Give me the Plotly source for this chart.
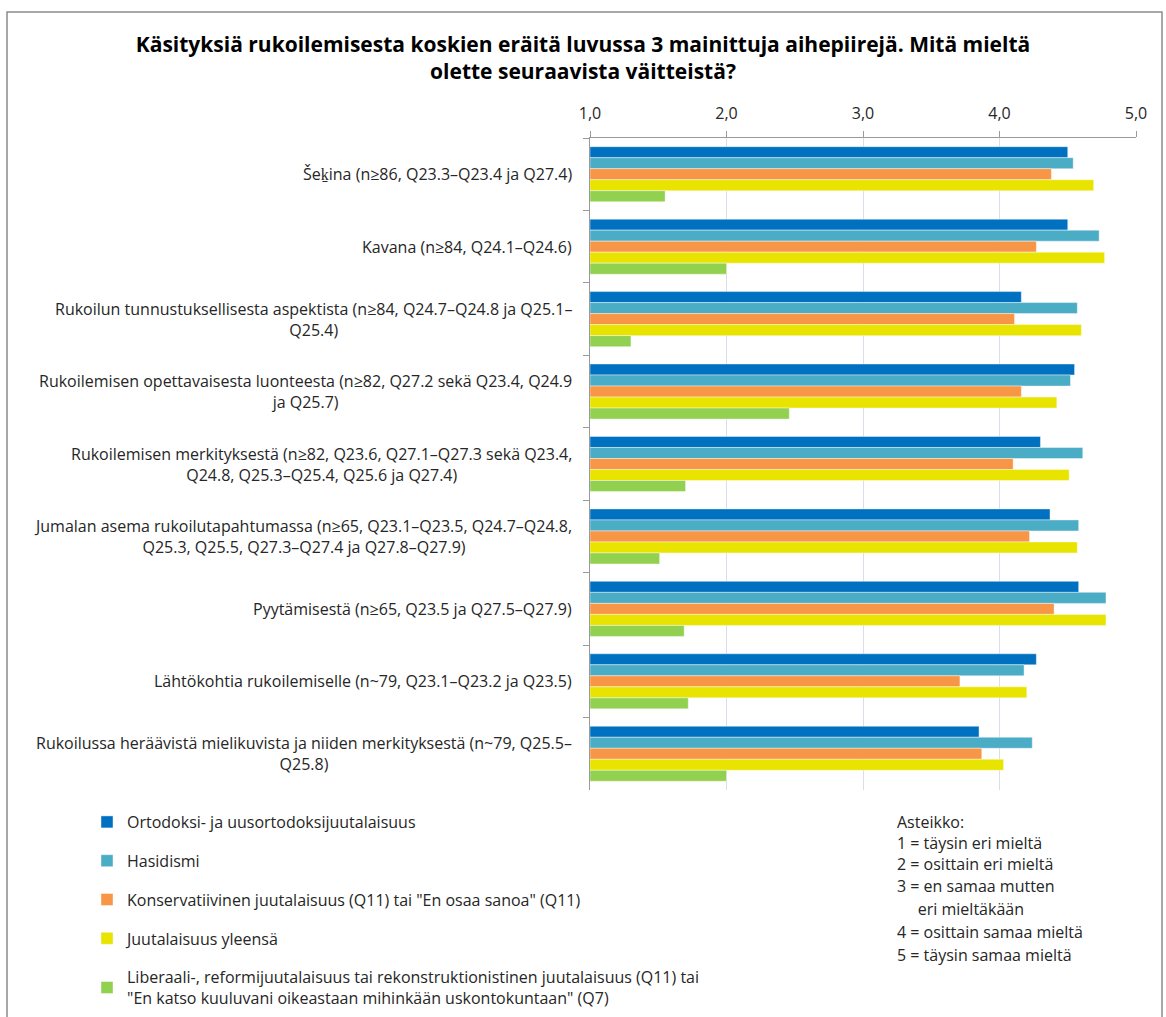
import plotly.graph_objects as go

categories = [
    "Šeḵina (n≥86, Q23.3–Q23.4 ja Q27.4)",
    "Kavana (n≥84, Q24.1–Q24.6)",
    "Rukoilun tunnustuksellisesta aspektista (n≥84, Q24.7–Q24.8 ja Q25.1–<br>Q25.4)",
    "Rukoilemisen opettavaisesta luonteesta (n≥82, Q27.2 sekä Q23.4, Q24.9<br>ja Q25.7)",
    "Rukoilemisen merkityksestä (n≥82, Q23.6, Q27.1–Q27.3 sekä Q23.4,<br>Q24.8, Q25.3–Q25.4, Q25.6 ja Q27.4)",
    "Jumalan asema rukoilutapahtumassa (n≥65, Q23.1–Q23.5, Q24.7–Q24.8,<br>Q25.3, Q25.5, Q27.3–Q27.4 ja Q27.8–Q27.9)",
    "Pyytämisestä (n≥65, Q23.5 ja Q27.5–Q27.9)",
    "Lähtökohtia rukoilemiselle (n~79, Q23.1–Q23.2 ja Q23.5)",
    "Rukoilussa heräävistä mielikuvista ja niiden merkityksestä (n~79, Q25.5–<br>Q25.8)",
]

series_names = [
    "Ortodoksi- ja uusortodoksijuutalaisuus",
    "Hasidismi",
    "Konservatiivinen juutalaisuus (Q11) tai \"En osaa sanoa\" (Q11)",
    "Juutalaisuus yleensä",
    "Liberaali-, reformijuutalaisuus tai rekonstruktionistinen juutalaisuus (Q11) tai<br>\"En katso kuuluvani oikeastaan mihinkään uskontokuntaan\" (Q7)",
]

ortodoksi = [4.50, 4.50, 4.16, 4.55, 4.30, 4.37, 4.58, 4.27, 3.85]
hasidismi = [4.54, 4.73, 4.57, 4.52, 4.61, 4.58, 4.78, 4.18, 4.24]
konservatiivinen = [4.38, 4.27, 4.11, 4.16, 4.10, 4.22, 4.40, 3.71, 3.87]
yleensa = [4.69, 4.77, 4.60, 4.42, 4.51, 4.57, 4.78, 4.20, 4.03]
liberaali = [1.55, 2.00, 1.30, 2.46, 1.70, 1.51, 1.69, 1.72, 2.00]

series_values = [ortodoksi, hasidismi, konservatiivinen, yleensa, liberaali]
colors = ["#0070C0", "#4BACC6", "#F79646", "#E8E400", "#92D050"]

x_ticks = [1, 2, 3, 4, 5]

scale_lines = [
    "Asteikko:",
    "1 = täysin eri mieltä",
    "2 = osittain eri mieltä",
    "3 = en samaa mutten",
    "\u00a0\u00a0\u00a0\u00a0\u00a0eri mieltäkään",
    "4 = osittain samaa mieltä",
    "5 = täysin samaa mieltä",
]

title_text = ("Käsityksiä rukoilemisesta koskien eräitä luvussa 3 mainittuja aihepiirejä. Mitä mieltä"
              "<br>olette seuraavista väitteistä?")

FONT = "Open Sans"
W, H = 1166, 1017
L, R, T, B = 590, 30, 138, 227
PW = W - L - R
PH = H - T - B


def px_x(px):
    return (px - L) / PW


def px_y(py):
    return (H - B - py) / PH


fig = go.Figure()
for i, (name, vals, col) in enumerate(zip(series_names, series_values, colors)):
    fig.add_trace(go.Bar(
        y=categories, x=[v - 1 for v in vals], base=1, orientation="h",
        name=name, marker=dict(color=col, line=dict(color="rgba(255,255,255,0.7)", width=0.6)),
        legendgroup=f"g{i}",
    ))

annotations = []
for c in categories:
    annotations.append(dict(
        x=0, xref="paper", y=c, yref="y", text=c, showarrow=False,
        xanchor="right", yanchor="middle", align="center", xshift=-16,
        font=dict(family=FONT, size=16, color="#262626"),
    ))

scale_y = [822, 843, 864, 886, 909, 932, 955]
for line, py in zip(scale_lines, scale_y):
    annotations.append(dict(
        x=px_x(895), xref="paper", y=px_y(py), yref="paper", text=line, showarrow=False,
        xanchor="left", yanchor="middle", align="left",
        font=dict(family=FONT, size=16, color="#262626"),
    ))

fig.update_layout(
    width=W, height=H,
    margin=dict(l=L, r=R, t=T, b=B, pad=0, autoexpand=False),
    paper_bgcolor="white", plot_bgcolor="white",
    separators=", ",
    barmode="group", bargap=0.24, bargroupgap=0,
    title=dict(text=title_text, x=0.5, xref="container", xanchor="center",
               y=1 - 52 / H, yref="container", yanchor="top",
               font=dict(family=FONT, size=21, color="black", weight="bold")),
    xaxis=dict(side="top", range=[1, 5], tickvals=x_ticks, tickformat=".1f",
               showgrid=True, gridcolor="#D9DFEA", gridwidth=1,
               showline=True, linecolor="#9A9A9A", linewidth=1,
               ticks="outside", ticklen=6, tickcolor="#9A9A9A",
               ticklabelstandoff=6, zeroline=False, fixedrange=True,
               tickfont=dict(family=FONT, size=16, color="#262626")),
    yaxis=dict(autorange="reversed", showticklabels=False,
               showline=True, linecolor="#9A9A9A", linewidth=1,
               ticks="outside", ticklen=6, tickcolor="#9A9A9A", tickson="boundaries",
               showgrid=False, fixedrange=True),
    legend=dict(x=px_x(87), y=px_y(805), xanchor="left", yanchor="top",
                orientation="v", tracegroupgap=15, itemwidth=30,
                font=dict(family=FONT, size=16, color="#262626"),
                bgcolor="rgba(0,0,0,0)"),
    annotations=annotations,
    shapes=[dict(type="rect", xref="paper", yref="paper",
                 x0=px_x(7), x1=px_x(1162), y0=px_y(1030), y1=px_y(12),
                 line=dict(color="#8C8C8C", width=1.5), fillcolor="rgba(0,0,0,0)", layer="below")],
)

fig.write_html("out.html", config={"displayModeBar": False},
               post_script="document.body.style.margin='0';")
